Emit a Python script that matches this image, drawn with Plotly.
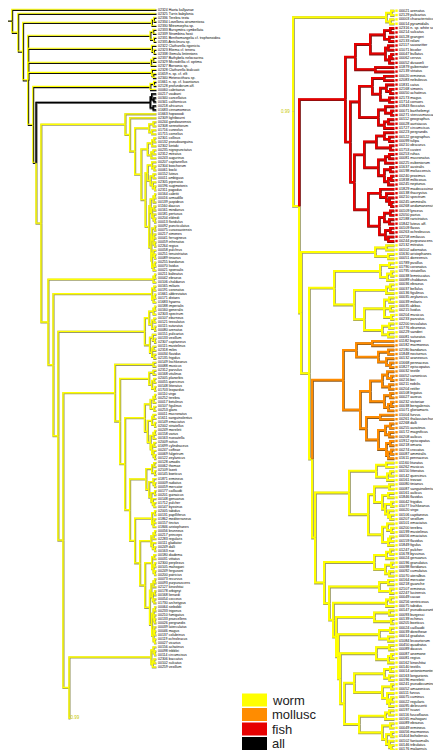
import plotly.graph_objects as go

# ---------------- data ----------------
LEFT_TAXA = [
    "02324 Haeta kallyanae", "02325 Turris babylonia", "02336 Terebra texta", "02334 Lovellona atramentosa",
    "02330 Mitromorpha sp.", "02333 Bursymitra cymbellata", "02339 Strombina hosii",
    "02331 Benthomangelia cf. trophonoidea", "02335 Anticlinura sp.", "02322 Clathurella rigonicta",
    "02323 Eliema cf. tenera", "02338 Gemula lintinnions", "02337 Bathybela nelocsarina",
    "02329 Microdrillia cf. optima", "02327 Borsonia sp.", "02328 Clathurella bialcuati",
    "01659 n. sp. cf. elfi", "02340 Heterocithara sp.", "01661 n. sp. cf. kuantanus",
    "02128 profundorum aff.", "00060 cabritaeus", "00217 vaubani", "00340 cancellatus", "00341 californicus",
    "00218 africanus", "01683 cinnamomeus", "01663 hopwoodi", "02309 lightbourni", "00244 gondwanensis",
    "02308 sennottorum", "01716 cuneolus", "01715 cornelius", "02301 collisus", "00132 pseudoanguina",
    "02302 kintoki", "00235 nigropunctatus", "02312 mitratus", "00243 augurinus", "00207 capitanellus",
    "02304 boschorum", "00061 bocki", "00152 luteus", "00011 ambiguus", "02305 piperatus",
    "00196 sugimotonis", "02311 pagodus", "00164 cabritii", "00016 armadillo", "00139 jaspideus",
    "01160 daucus", "00161 mindanus", "00181 pertusus", "00204 eldredi", "00013 floridulus",
    "00092 puncticulatus", "00075 curassaviensis", "00217 ximenes", "00041 ferrugineus", "00059 infrenatus",
    "02264 regius", "00058 pulchrus", "00251 tenuistriatus", "00089 tinianus", "00255 bandanus",
    "00070 lividus", "00021 sponsalis",
    "00211 balteatus", "00042 ebraeus", "00106 chaldaeus", "00165 miliaris", "00191 coronatus",
    "01661 abbreviatus", "00171 distans", "01683 hyaena", "00188 imperialis", "00160 generalis",
    "02303 spectrum", "00107 eburneus", "00121 tessulatus", "00115 suturatus", "00080 arenatus",
    "00151 pulicarius", "00133 vexillum", "02307 capitaneus",
    "00115 mustelinus", "02318 miles", "00034 flavidus", "02135 frigidus", "00149 lischkeanus",
    "00088 musicus", "02312 parvulus", "00168 vitulinus", "02005 planorbis", "00055 quercinus",
    "00148 litteratus", "01703 leopardus", "00110 virgo", "00252 terebra", "00017 betulinus",
    "00107 figulinus", "00253 glans", "00011 mucronatus", "01611 sanguinolentus", "00149 emaciatus",
    "02002 striatellus", "00249 moreleti", "00158 varius", "00163 nussatella", "02009 rattus",
    "01699 cylindraceus", "00247 coffeae", "00069 fulgetrum", "00122 zeylanicus", "00128 amadis",
    "00062 thomae", "02109 lozeti", "00145 boeticus", "01871 ermineus", "00009 radiatus",
    "00059 mercator", "00177 caillaudii", "00201 guinaicus", "00148 genuanus", "01712 pulcher",
    "00147 byssinus", "02005 tabidus", "00131 papilliferus", "01862 mediterraneus", "00157 tinctus",
    "01846 aristophanes", "00056 brunneus", "00217 princeps", "02283 regularis", "00111 gladiator",
    "00249 dalli", "00163 nux", "00180 diadema", "00031 vittatus", "02300 perplexus",
    "00105 mahogani", "00249 fergusoni", "00200 patricius", "00073 recurvus", "00093 purpurascens",
    "02127 kinoshitai", "00178 orbignyi", "00168 lienardi", "00054 cocceus", "01730 archetypus",
    "00064 sieboldii", "00233 trigonus", "00210 fumigatus", "00133 praecellens", "00026 pergrandis",
    "00039 laterculatus", "00046 magus", "00137 colubrinus", "00119 ochroleucus", "00027 vicarius",
    "00156 achatinus", "00098 tribblei", "00114 circumcisus", "02306 baccatus", "00102 sulcatus",
    "00259 vexillum",
]
LEFT_STUB_LABEL = "0.99"

RIGHT_TAXA = [
    "00021 arenatus", "02129 pulicarius", "00003 characteristicus", "00014 pyramidalis",
    "02316 n. sp. white scale", "00214 sulcatus", "00128 grangeri", "02133 rolani", "02117 sauvaritter",
    "01071 bicolor", "00047 bullatus", "00062 cervus", "00052 dusaveli", "01879 gubernator",
    "02139 striatus", "00020 ermineus", "02083 nebulosus", "01831 catus", "02168 simonis",
    "00050 achatinus", "02173 magus", "01714 consors", "01843 floccatus", "00071 barthelemyi",
    "00271 stercusmuscarum", "00112 geographus", "00028 aurisiacus", "01727 circumcisus",
    "00223 pergrandis", "00122 geographus", "00099 tulipa", "00210 obscurus", "01753 cuvieri",
    "00253 ruhas", "00081 mucronatus", "00225 eubeniorum", "01637 australis", "00198 moluccensis",
    "00240 proximus", "01838 milticosus", "00245 neptunus", "01829 madecassinus", "00138 thacrystus",
    "00210 spectrum", "00245 ammiralis", "00268 andamanensis", "00109 lynceus", "02050 parius",
    "02188 raristriatus", "01842 luteus aff.", "00109 flavus", "00263 ochroleucus", "02258 emilasus",
    "00244 purpurascens",
    "02132 mitratus", "00102 adornatus", "01630 aristophanes", "00051 dorreensis", "01789 pusillus",
    "01790 coronatus", "01795 striatellus", "00038 lemniscatus", "00089 chaldaeus", "00036 ebraeus",
    "00037 bellulus", "00136 figulinus", "00035 zeylanicus", "00039 miliaris", "00035 abbas",
    "00215 lividus", "00204 musicus", "00233 parvatus", "02200 tessulatus", "01776 eburneus",
    "00229 sanderi", "00081 suturatus",
    "01182 bayani", "00182 marmoreus", "02180 bandanus", "01848 nocturnus", "00132 araneosus",
    "01668 pennaceus", "01827 episcopatus", "00032 textile", "00052 canonicus", "00216 bei",
    "00211 nobilis", "00204 retifer", "00108 legatus", "00027 aureus", "00232 victoriae",
    "00038 bengalensis", "01071 gloriamaris", "01004 furvus", "00261 thalassiarchus", "02268 dalli",
    "00255 auratinus", "00172 magnificus", "00208 aulicus", "01912 episcopatus", "00218 omaria",
    "00274 crocatus", "00087 ammiralis", "01611 pennaceus",
    "01160 lituratus", "00262 musicus", "00150 litteratus", "00142 quercinus", "00161 trovaoi",
    "00080 tinianus", "00087 sanguinolentus", "00161 aulicus", "01846 flavidus", "00042 frigidus",
    "01077 lischkeanus", "00020 virgo", "00106 capitaneus", "00207 vexillum", "00101 emaciatus",
    "00200 terebra", "00199 mustelinus", "00056 emaciatus", "00159 flavidus", "01849 figulus",
    "01247 pulcher", "01678 byssinus", "00024 genuanus", "00196 granulatus", "00098 floridanus",
    "00092 cumulatus", "01070 ateralbus", "00164 mercator", "00218 guanche", "02107 ermineus",
    "02247 lucirensis", "00049 cacao", "00256 ventricosus", "00075 tabidus", "00147 pseudoaurantius",
    "00093 burgessi", "00139 echinus", "00205 boeticus", "00024 caillaudii", "00039 dorotheae",
    "00014 gradatus", "01084 lecourtorum", "00450 quadratus", "00089 daucus", "00087 anemone",
    "00081 regius", "00162 kinoshitai", "00140 textilis", "00014 antoniomonteiroi", "00163 longurionis",
    "00196 moreletii", "00241 pseudocuminus", "00052 amazonicus", "00111 furvus", "00075 cuminus",
    "00022 regularis", "00095 delessertii", "00197 tsuzzi", "00116 fuscoflavus", "00165 mahogani",
    "00089 ebraeus", "00049 ermineus", "00056 marmoreus", "01404 boholensis", "00102 fantasmalis",
    "00146 tribulatus", "00176 malaensis",
]
RIGHT_ROOT_SUPPORT = "0.99"

# trees: '*' = next taxon, number after ')' = node age, trailing letter = diet state of the clade
# y = worm, o = mollusc, r = fish, k = all, m = worm/all (ambiguous); a leaf with an age is a stub
L_TIPS_A = ["((*,*)1.5,*)3", "((*,*)2,(*,*)1.5)4", "(*,(*,*)1.5)3", "((*,*)2,*)3.5", "(*,(*,*)2)3",
            "((*,*)1.5,*)4"]
L_BLACK = "((*,(*,*)1.5)3,(*,*)2)4k"
L_YA = ("(*,(*,(((*,*)2,(*,*)3)5,((((*,*)1.5,*)3,((*,*)2,*)3.5)6,(((*,(*,*)1.5)3,((*,*)2,(*,(*,*)1)2.5)4)6,"
        "((((*,*)1,*)2,((*,*)1.5,(*,(*,*)1)2)3)4,(((*,*)1,((*,*)1.5,(*,*)1)2)3,"
        "((*,(*,*)1)2,((*,*)1,*)2)3)3.5)5)7.5)10.4)14.8)18.3)21.5")
L_X1 = "((*,*)1,*)2"
L_X2 = "((*,*)1.5,((*,*)1,*)2)3"
L_X3 = "((((*,*)1,*)2,((*,*)1.5,(*,*)1)3)5,((*,(*,*)1)2.5,((*,*)2,(*,*)1.5)3)4.5)8"
L_X4 = ("((*,*)2,(((*,*)2,((*,*)1.5,(*,*)1)3)5,"
        "(((((*,*)1,*)2,(*,*)1.5)4,(((*,*)2,(*,*)1)3,(((*,*)1,*)2,((*,*)1.5,(*,(*,*)1)2)3)4)6)8,"
        "((((*,*)1.5,(*,*)1)3,((*,(*,*)1)2,((*,*)1,(*,(*,*)1.5)2.5)3.5)5)7,"
        "(((*,*)1,((*,*)1.5,*)2)3,((((*,*)1,*)2,(*,(*,*)1)2.5)3.5,"
        "(((*,*)1.5,((*,*)1,(*,*)1)2)3,((((*,*)1,*)2,((*,*)1,(*,*)1.5)2.5)3.5,"
        "(((*,*)1,(*,(*,*)1)1.5)2,((*,(*,*)1)1.5,(*,*)1)2)3)4.5)7.8)11.3)14.8)18.3)21.7)25.2)28.7")
L_X5 = "((*,(*,*)1)2,((*,*)1.5,*)2.5)3.5"
L_Q = ("(" + L_X1 + ",(" + L_X2 + ",(" + L_X3 + ",(" + L_X4 + ",(" + L_X5 +
       ",*59.7)60.4)64.6)68.1)71.5)75")
LEFT_TREE = ("(*,(*,(" + L_TIPS_A[0] + ",(" + L_TIPS_A[1] + "," + L_TIPS_A[2] + "," + L_TIPS_A[3] + "," +
             L_TIPS_A[4] + ",(" + L_TIPS_A[5] + ",(" + L_BLACK + ",(" + L_YA + "," + L_Q +
             ")79.9y)83.3)85.4)88.9)92.4)95.8)100m")

R_A = "((*,*)3,(*,*)4)8"
R_B1 = "((((*,*)4,(*,*)5)10,((*,*)6,((*,*)3,*)5)9)24,(*,*)19)39"
R_B2a = "(((*,*)10,((*,(*,*)4)8,(*,*)5)14)22,((*,(*,*)3)9,((*,*)6,*)10)16)35"
R_B2b = "(((*,(*,*)5)10,(*,*)4)18,(((*,*)5,*)9,((*,*)4,((*,*)3,*)6)10)16)30"
R_B2c = "((*,(*,(*,(*,*)3)5)8)14,(((*,*)4,(*,*)5)10,((*,*)4,(*,*)6)9)15)26"
R_B = "(" + R_B1 + ",(" + R_B2a + ",(" + R_B2b + "," + R_B2c + ")40)44)49r"
R_C1 = "((*,*)8,(*,*)6)19"
R_C2 = "(((*,*)5,((*,*)3,*)7)14,(((*,*)4,*)8,(((*,*)5,(*,*)4,(*,*)3)10,((*,*)5,(*,*)6)12)30)40)60"
R_O1 = "((*,*)22,((*,*)6,(*,(*,*)4)8)16)38"
R_O2 = "(((*,(*,*)3)7,(*,*)5)12,((*,*)4,((*,*)3,*)6)10)24"
R_O3 = "((*,*)14,(((*,*)4,(*,*)5)9,((*,*)4,((*,*)3,*)6)8)16)28"
R_O = "(" + R_O1 + ",(" + R_O2 + "," + R_O3 + ")34)51o"
R_C3 = ("(((*,*)8,((*,*)4,*)7)18,(((*,*)5,((*,*)6,((*,*)3,(*,(*,*)4)6)9)12)20,"
        "((*,(*,*)3)7,((*,*)4,*)6)12)26)45")
R_C5 = "(((*,*)4,*)8,((*,*)3,(*,*)5)9)20"
R_C6 = "((*,*)6,(*,*)4)15"
R_C7 = "((*,*)4,*)8"
R_C8 = ("(((*,*)5,(*,*)3)20,(((*,*)4,(*,*)6)15,(((*,*)5,((*,*)3,*)6)18,"
        "((((*,*)4,(*,*)5)10,((*,*)3,(*,((*,*)3,*)5)7)12)40,"
        "(((*,*)5,*)9,((*,*)4,((*,*)3,(*,(*,*)3)5)8)12)35)50)54)56)58")
RIGHT_TREE = ("(" + R_A + ",(" + R_B + ",(" + R_C1 + ",(" + R_C2 + ",(" + R_O + ",(" + R_C3 + ",(" + R_C5 +
              ",(" + R_C6 + ",(" + R_C7 + "," + R_C8 + ")61)65)70)79)82)85)93)95)101y")

STATES = ["worm", "mollusc", "fish", "all"]
STATE_KEYS = ["y", "o", "r", "k"]

# ---------------- styling ----------------
COLORS = {"y": "#ffff00", "o": "#ff8c00", "r": "#e60000", "k": "#000000"}
SHADOW = {"y": "#9a9a66", "o": "#8c5a1e", "r": "#7a1212", "k": "#666666"}


def parse_tree(s):
    pos = 0

    def read_ann():
        nonlocal pos
        start = pos
        while pos < len(s) and s[pos] not in ",()":
            pos += 1
        tok = s[start:pos]
        col = None
        if tok and tok[-1].isalpha():
            col, tok = tok[-1], tok[:-1]
        return (float(tok) if tok else 0.0), col

    def node():
        nonlocal pos
        if s[pos] == "(":
            pos += 1
            kids = [node()]
            while s[pos] == ",":
                pos += 1
                kids.append(node())
            pos += 1
            age, col = read_ann()
            return {"kids": kids, "age": age, "col": col}
        pos += 1
        age, col = read_ann()
        return {"kids": [], "age": age, "col": col}

    return node()


def count_tips(nd):
    if not nd["kids"]:
        return 1 if nd["age"] == 0 else 0
    return sum(count_tips(k) for k in nd["kids"])


def layout(root, x_root, x_tip, y_first, y_last, stub_gap=50.0):
    n = count_tips(root)
    scale = (x_tip - x_root) / root["age"]
    dy = (y_last - y_first) / (n - 1)
    leaves = []
    state = {"i": 0, "last": y_first}

    def rec(nd, col):
        nd["c"] = nd["col"] or col
        nd["x"] = x_root + (root["age"] - nd["age"]) * scale
        if not nd["kids"]:
            if nd["age"] > 0:
                nd["stub"] = True
                nd["y"] = state["last"] + stub_gap
            else:
                nd["stub"] = False
                nd["y"] = y_first + state["i"] * dy
                state["i"] += 1
            state["last"] = nd["y"]
            leaves.append(nd)
        else:
            for k in nd["kids"]:
                rec(k, nd["c"])
            nd["y"] = (nd["kids"][0]["y"] + nd["kids"][-1]["y"]) / 2

    rec(root, root["col"] or "y")
    return leaves


def segments(root):
    segs = {}

    def rec(nd):
        for k in nd["kids"]:
            xs, ys = segs.setdefault(k["c"], ([], []))
            xs += [nd["x"], nd["x"], k["x"], None]
            ys += [nd["y"], k["y"], k["y"], None]
            rec(k)

    rec(root)
    return segs


def shift(vals, d):
    return [None if v is None else v + d for v in vals]


fig = go.Figure()


def draw_tree(root, w):
    segs = segments(root)
    for c in ["m", "y", "o", "r", "k"]:
        if c not in segs:
            continue
        xs, ys = segs[c]
        if c == "m":
            fig.add_trace(go.Scatter(x=shift(xs, 0.5), y=shift(ys, 0.6), mode="lines",
                                     line=dict(color="#111111", width=w), hoverinfo="skip"))
            fig.add_trace(go.Scatter(x=shift(xs, -0.3), y=shift(ys, -0.5), mode="lines",
                                     line=dict(color=COLORS["y"], width=w * 0.8), hoverinfo="skip"))
        else:
            fig.add_trace(go.Scatter(x=shift(xs, 0.5), y=shift(ys, 0.5), mode="lines",
                                     line=dict(color=SHADOW[c], width=w + 0.7), hoverinfo="skip"))
            fig.add_trace(go.Scatter(x=xs, y=ys, mode="lines",
                                     line=dict(color=COLORS[c], width=w), hoverinfo="skip"))


def tip_labels(leaves, taxa):
    out, i = [], 0
    for lf in leaves:
        if lf["stub"]:
            out.append("")
        else:
            out.append(taxa[i] if i < len(taxa) else "")
            i += 1
    return out


# left tree
ltree = parse_tree(LEFT_TREE)
lleaves = layout(ltree, 4, 148, 1.7, 659.0, stub_gap=51.0)
draw_tree(ltree, 1.4)
fig.add_trace(go.Scatter(x=[0, ltree["x"]], y=[ltree["y"], ltree["y"]], mode="lines",
                         line=dict(color="#333300", width=1.4), hoverinfo="skip"))
ltexts = tip_labels(lleaves, LEFT_TAXA)
fig.add_trace(go.Scatter(
    x=[lf["x"] + 2 for lf in lleaves if not lf["stub"]],
    y=[lf["y"] for lf in lleaves if not lf["stub"]],
    text=[t for t, lf in zip(ltexts, lleaves) if not lf["stub"]],
    mode="text", textposition="middle right",
    textfont=dict(size=3.5, color="#000000", family="Liberation Sans, Arial"), hoverinfo="skip"))
fig.add_trace(go.Scatter(
    x=[lf["x"] + 0.5 for lf in lleaves if lf["stub"]],
    y=[lf["y"] for lf in lleaves if lf["stub"]],
    text=[LEFT_STUB_LABEL for lf in lleaves if lf["stub"]],
    mode="text", textposition="middle right",
    textfont=dict(size=4.5, color="#c8c800", family="Liberation Sans, Arial"), hoverinfo="skip"))

# right tree
rtree = parse_tree(RIGHT_TREE)
rleaves = layout(rtree, 285, 386, 2.7, 741.5)
draw_tree(rtree, 2.0)
fig.add_trace(go.Scatter(
    x=[lf["x"] + 2.5 for lf in rleaves], y=[lf["y"] for lf in rleaves], mode="markers",
    marker=dict(symbol="square", size=2.4, color=[COLORS[lf["c"]] for lf in rleaves],
                line=dict(width=0)), hoverinfo="skip"))
fig.add_trace(go.Scatter(
    x=[lf["x"] + 5 for lf in rleaves], y=[lf["y"] for lf in rleaves],
    text=tip_labels(rleaves, RIGHT_TAXA),
    mode="text", textposition="middle right",
    textfont=dict(size=3.7, color="#000000", family="Liberation Sans, Arial"), hoverinfo="skip"))
fig.add_annotation(x=rtree["x"] - 1.5, y=rtree["y"], text=RIGHT_ROOT_SUPPORT, showarrow=False,
                   xanchor="right", yanchor="middle", font=dict(size=4.5, color="#c8c800",
                                                                family="Liberation Sans, Arial"))

# legend
for i, (st, key) in enumerate(zip(STATES, STATE_KEYS)):
    yc = 692 + i * 14.5
    fig.add_shape(type="rect", x0=234, x1=259, y0=yc - 6.5, y1=yc + 6.5, fillcolor=COLORS[key],
                  line=dict(width=0), layer="above")
    fig.add_annotation(x=262, y=yc, text=st, showarrow=False, xanchor="left", yanchor="middle",
                       font=dict(size=13, color="#222222", family="Liberation Sans, Arial"))

fig.update_layout(
    width=441, height=750, margin=dict(l=0, r=0, t=0, b=0),
    paper_bgcolor="white", plot_bgcolor="white", showlegend=False,
    xaxis=dict(range=[0, 441], visible=False, fixedrange=True),
    yaxis=dict(range=[750, 0], visible=False, fixedrange=True),
)
fig.write_html("out.html")
